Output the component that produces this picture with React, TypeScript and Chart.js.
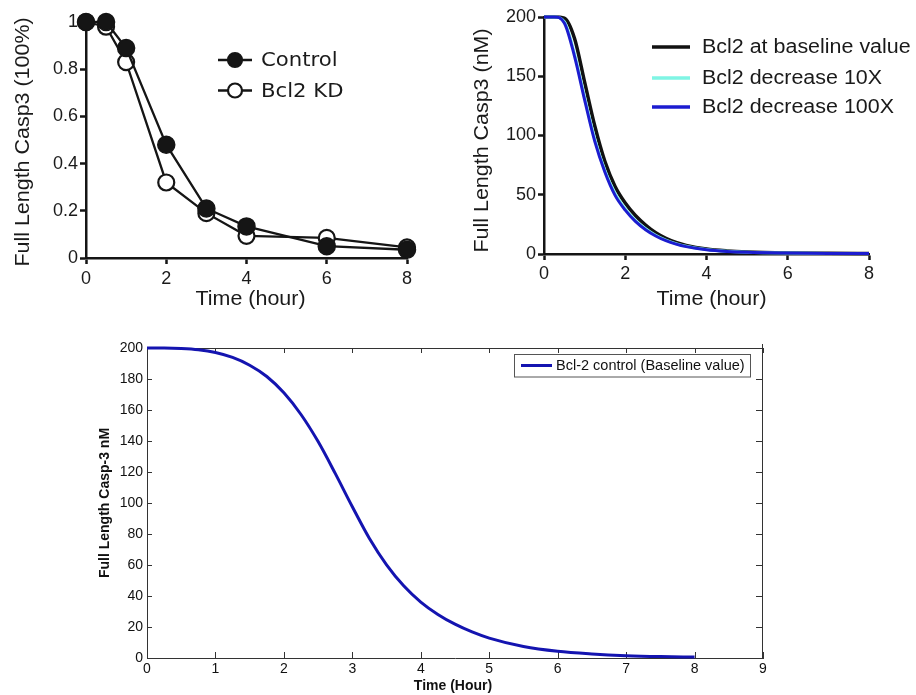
import React, { useEffect, useRef } from "react";
import { Chart, registerables } from "chart.js";

Chart.register(...registerables);
Chart.defaults.font.family = "'Liberation Sans', Arial, sans-serif";

// ---- Measured Casp3 (fraction of full length) ----
const expTimes = [0, 0.5, 1, 2, 3, 4, 6, 8];
const controlValues = [1.0, 1.0, 0.89, 0.48, 0.21, 0.134, 0.05, 0.035];
const bcl2KdValues = [1.0, 0.98, 0.83, 0.32, 0.19, 0.094, 0.085, 0.045];
const expXTicks = [0, 2, 4, 6, 8];

// ---- Model: full length Casp3 (nM) for different Bcl2 levels ----
const modelTimes = [0, 0.25, 0.5, 0.75, 1, 1.25, 1.5, 1.75, 2, 2.25, 2.5, 2.75, 3, 3.25, 3.5, 4, 4.5, 5, 6, 7, 8];
const bcl2Baseline = [200, 200, 199, 182, 145, 108, 78, 57, 43, 32.5, 24.5, 18, 13.3, 9.8, 7.3, 4.2, 2.6, 1.7, 0.9, 0.6, 0.5];
const bcl2Down10x = [200, 200, 196, 169, 132, 97, 70.5, 51, 38, 28.5, 21.3, 15.8, 11.7, 8.7, 6.5, 3.8, 2.3, 1.5, 0.8, 0.5, 0.4];
const bcl2Down100x = [200, 200, 195, 167, 130, 95, 69, 49.5, 37, 27.5, 20.5, 15.2, 11.2, 8.3, 6.2, 3.6, 2.2, 1.4, 0.8, 0.5, 0.4];

// ---- Model: Bcl-2 control run ----
const controlTimes = [0, 0.25, 0.5, 0.75, 1, 1.25, 1.5, 1.75, 2, 2.25, 2.5, 2.75, 3, 3.25, 3.5, 3.75, 4, 4.25, 4.5, 4.75, 5, 5.5, 6, 6.5, 7, 7.5, 8];
const controlCasp3 = [200, 200, 199.7, 198.9, 197.1, 193.9, 188.9, 181.6, 171.1, 157.1, 139.6, 119.1, 97.6, 77.1, 60.1, 46.6, 36.1, 28.1, 21.8, 16.8, 12.8, 7.4, 4.3, 2.6, 1.5, 0.9, 0.6];

const toPoints = (xs: number[], ys: number[]) => xs.map((x, i) => ({ x, y: ys[i] }));

type TextOpts = {
  font: string;
  color?: string;
  align?: CanvasTextAlign;
  baseline?: CanvasTextBaseline;
  rotate?: number;
  stretch?: number;
};

function drawText(ctx: CanvasRenderingContext2D, text: string, x: number, y: number, o: TextOpts) {
  ctx.save();
  ctx.translate(x, y);
  if (o.rotate) ctx.rotate(o.rotate);
  if (o.stretch) ctx.scale(o.stretch, 1);
  ctx.font = o.font;
  ctx.fillStyle = o.color ?? "#1a1a1a";
  ctx.textAlign = o.align ?? "center";
  ctx.textBaseline = o.baseline ?? "middle";
  ctx.fillText(text, 0, 0);
  ctx.restore();
}

const INK = "#151515";
const TITLE_FONT = "19.5px 'Liberation Sans', Arial, sans-serif";
const plainNumber = (v: any) => String(Math.round(Number(v) * 10) / 10);

function prismAxis(min: number, max: number, step: number, fit: (s: any) => void, padding: number) {
  return {
    type: "linear" as const,
    min,
    max,
    ticks: { stepSize: step, font: { size: 18 }, color: "#1a1a1a", padding, callback: plainNumber },
    grid: { display: true, drawOnChartArea: false, drawTicks: true, tickLength: 6, tickWidth: 2.5, tickColor: INK },
    border: { display: true, width: 2.5, color: INK },
    afterFit: fit,
  };
}

function experimentConfig(): any {
  const overlay = {
    id: "expText",
    afterDraw(chart: any) {
      const { ctx, chartArea: a } = chart;
      drawText(ctx, "Time (hour)", (a.left + a.right) / 2 + 4, a.bottom + 42, { font: TITLE_FONT, stretch: 1.1 });
      drawText(ctx, "Full Length Casp3 (100%)", a.left - 62, (a.top + a.bottom) / 2 + 2, {
        font: TITLE_FONT,
        stretch: 1.1,
        rotate: -Math.PI / 2,
      });
      const rows = [
        { label: "Control", fill: INK, y: 60 },
        { label: "Bcl2 KD", fill: "#ffffff", y: 90.5 },
      ];
      rows.forEach((r) => {
        ctx.save();
        ctx.strokeStyle = INK;
        ctx.lineWidth = 2.5;
        ctx.beginPath();
        ctx.moveTo(218, r.y);
        ctx.lineTo(252, r.y);
        ctx.stroke();
        ctx.beginPath();
        ctx.arc(235, r.y, 7, 0, Math.PI * 2);
        ctx.fillStyle = r.fill;
        ctx.fill();
        ctx.lineWidth = 2.2;
        ctx.stroke();
        ctx.restore();
        drawText(ctx, r.label, 261, r.y + 1, {
          font: "20px 'DejaVu Sans', Verdana, sans-serif",
          align: "left",
          stretch: 1.06,
        });
      });
    },
  };
  return {
    type: "line",
    data: {
      datasets: [
        {
          label: "Control",
          data: toPoints(expTimes, controlValues),
          borderColor: INK,
          borderWidth: 2.3,
          pointRadius: 8.5,
          pointBackgroundColor: INK,
          pointBorderColor: INK,
          pointBorderWidth: 1.5,
          tension: 0,
          clip: false,
        },
        {
          label: "Bcl2 KD",
          data: toPoints(expTimes, bcl2KdValues),
          borderColor: INK,
          borderWidth: 2.3,
          pointRadius: 8,
          pointBackgroundColor: "#ffffff",
          pointBorderColor: INK,
          pointBorderWidth: 2.2,
          tension: 0,
          clip: false,
        },
      ],
    },
    options: {
      responsive: false,
      animation: false,
      devicePixelRatio: 1,
      layout: { padding: { left: 0, top: 22, right: 53, bottom: 0 } },
      plugins: { legend: { display: false }, tooltip: { enabled: false } },
      scales: {
        x: {
          ...prismAxis(0, 8, 2, (s: any) => { s.height = 62; }, 5),
          ticks: { stepSize: 2, font: { size: 18 }, color: "#1a1a1a", padding: 4, callback: (v: any) => (expXTicks.includes(v) ? String(v) : "") },
        },
        y: prismAxis(0, 1, 0.2, (s: any) => { s.width = 86; }, 2),
      },
    },
    plugins: [overlay],
  };
}

function modelConfig(): any {
  const legendRows = [
    { label: "Bcl2 at baseline value", color: "#111111", y: 47 },
    { label: "Bcl2 decrease 10X", color: "#7ff5e4", y: 78 },
    { label: "Bcl2 decrease 100X", color: "#1c1cd0", y: 107 },
  ];
  const overlay = {
    id: "modelText",
    afterDraw(chart: any) {
      const { ctx, chartArea: a } = chart;
      drawText(ctx, "Time (hour)", (a.left + a.right) / 2 + 5, a.bottom + 46, { font: TITLE_FONT, stretch: 1.1 });
      drawText(ctx, "Full Length Casp3 (nM)", a.left - 61, (a.top + a.bottom) / 2 + 5, {
        font: TITLE_FONT,
        stretch: 1.1,
        rotate: -Math.PI / 2,
      });
      legendRows.forEach((r) => {
        ctx.save();
        ctx.strokeStyle = r.color;
        ctx.lineWidth = 3.5;
        ctx.beginPath();
        ctx.moveTo(192, r.y);
        ctx.lineTo(230, r.y);
        ctx.stroke();
        ctx.restore();
        drawText(ctx, r.label, 242, r.y + 1, { font: TITLE_FONT, align: "left", stretch: 1.1 });
      });
    },
  };
  const curve = (label: string, values: number[], color: string, width: number) => ({
    label,
    data: toPoints(modelTimes, values),
    borderColor: color,
    borderWidth: width,
    pointRadius: 0,
    cubicInterpolationMode: "monotone",
    clip: false,
  });
  return {
    type: "line",
    data: {
      datasets: [
        curve("Bcl2 decrease 100X", bcl2Down100x, "#1c1cd0", 3),
        curve("Bcl2 decrease 10X", bcl2Down10x, "#7ff5e4", 3),
        curve("Bcl2 at baseline value", bcl2Baseline, "#111111", 3.5),
      ],
    },
    options: {
      responsive: false,
      animation: false,
      devicePixelRatio: 1,
      layout: { padding: { left: 0, top: 17, right: 47, bottom: 0 } },
      plugins: { legend: { display: false }, tooltip: { enabled: false } },
      scales: {
        x: prismAxis(0, 8, 2, (s: any) => { s.height = 66; }, 3),
        y: prismAxis(0, 200, 50, (s: any) => { s.width = 84; }, 2),
      },
    },
    plugins: [overlay],
  };
}

function controlRunConfig(): any {
  const LINE = "#1414b0";
  const box = {
    id: "matlabBox",
    beforeDatasetsDraw(chart: any) {
      const { ctx, chartArea: a, scales } = chart;
      ctx.save();
      ctx.strokeStyle = "#333333";
      ctx.lineWidth = 1;
      ctx.beginPath();
      ctx.moveTo(a.left, Math.round(a.top) + 0.5);
      ctx.lineTo(a.right, Math.round(a.top) + 0.5);
      ctx.moveTo(Math.round(a.right) - 0.5, a.top - 4);
      ctx.lineTo(Math.round(a.right) - 0.5, a.bottom);
      scales.x.ticks.forEach((t: any) => {
        const px = Math.round(scales.x.getPixelForValue(t.value)) + 0.5;
        ctx.moveTo(px, a.bottom);
        ctx.lineTo(px, a.bottom - 6);
        ctx.moveTo(px, a.top);
        ctx.lineTo(px, a.top + 5);
      });
      scales.y.ticks.forEach((t: any) => {
        const py = Math.round(scales.y.getPixelForValue(t.value)) + 0.5;
        ctx.moveTo(a.left, py);
        ctx.lineTo(a.left + 5, py);
        ctx.moveTo(a.right, py);
        ctx.lineTo(a.right - 7, py);
      });
      ctx.stroke();
      ctx.restore();
    },
    afterDraw(chart: any) {
      const { ctx, chartArea: a } = chart;
      const bold = "bold 14px 'Liberation Sans', Arial, sans-serif";
      drawText(ctx, "Time (Hour)", (a.left + a.right) / 2 - 2, a.bottom + 28, { font: bold, color: "#111" });
      drawText(ctx, "Full Length Casp-3 nM", a.left - 42, (a.top + a.bottom) / 2, {
        font: bold,
        color: "#111",
        rotate: -Math.PI / 2,
      });
      // legend box in the upper right corner
      const lx = a.right - 249, ly = a.top + 6, lw = 236, lh = 22.5;
      ctx.save();
      ctx.fillStyle = "#ffffff";
      ctx.fillRect(lx, ly, lw, lh);
      ctx.strokeStyle = "#555555";
      ctx.lineWidth = 1;
      ctx.strokeRect(Math.round(lx) + 0.5, Math.round(ly) + 0.5, lw, lh);
      ctx.strokeStyle = LINE;
      ctx.lineWidth = 3;
      ctx.beginPath();
      ctx.moveTo(lx + 7, ly + 11.5);
      ctx.lineTo(lx + 38, ly + 11.5);
      ctx.stroke();
      ctx.restore();
      drawText(ctx, "Bcl-2 control (Baseline value)", lx + 42, ly + 12, {
        font: "14.5px 'Liberation Sans', Arial, sans-serif",
        color: "#111",
        align: "left",
      });
    },
  };
  const axisBase = (min: number, max: number, step: number, fit: (s: any) => void, padding: number) => ({
    type: "linear" as const,
    min,
    max,
    ticks: { stepSize: step, font: { size: 14 }, color: "#111", padding },
    grid: { display: false, drawTicks: false },
    border: { display: true, width: 1, color: "#333333" },
    afterFit: fit,
  });
  return {
    type: "line",
    data: {
      datasets: [
        {
          label: "Bcl-2 control (Baseline value)",
          data: toPoints(controlTimes, controlCasp3),
          borderColor: LINE,
          borderWidth: 3,
          pointRadius: 0,
          cubicInterpolationMode: "monotone",
          clip: false,
        },
      ],
    },
    options: {
      responsive: false,
      animation: false,
      devicePixelRatio: 1,
      layout: { padding: { left: 0, top: 28, right: 153, bottom: 0 } },
      plugins: { legend: { display: false }, tooltip: { enabled: false } },
      scales: {
        x: axisBase(0, 9, 1, (s: any) => { s.height = 37; }, 3),
        y: axisBase(0, 200, 20, (s: any) => { s.width = 147; }, 4),
      },
    },
    plugins: [box],
  };
}

function ChartCanvas(props: { left: number; top: number; width: number; height: number; make: () => any; soft?: boolean }) {
  const ref = useRef<HTMLCanvasElement | null>(null);
  useEffect(() => {
    if (!ref.current) return;
    const chart = new Chart(ref.current, props.make());
    return () => chart.destroy();
  }, []);
  return (
    <canvas
      ref={ref}
      width={props.width}
      height={props.height}
      style={{
        position: "absolute",
        left: props.left,
        top: props.top,
        width: props.width,
        height: props.height,
        filter: props.soft ? "blur(0.55px)" : undefined,
      }}
    />
  );
}

export default function App() {
  return (
    <div style={{ position: "absolute", left: 0, top: 0, width: 916, height: 695, background: "#ffffff", overflow: "hidden" }}>
      <ChartCanvas left={0} top={0} width={460} height={320} make={experimentConfig} soft />
      <ChartCanvas left={460} top={0} width={456} height={320} make={modelConfig} soft />
      <ChartCanvas left={0} top={320} width={916} height={375} make={controlRunConfig} />
    </div>
  );
}
